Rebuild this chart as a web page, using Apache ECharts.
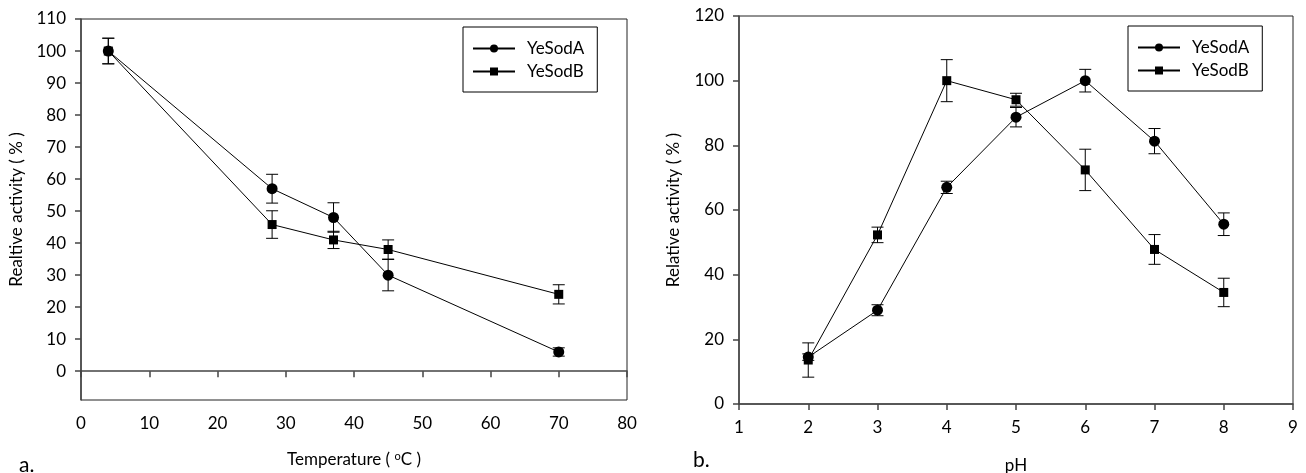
<!DOCTYPE html>
<html><head><meta charset="utf-8">
<script src="https://cdn.jsdelivr.net/npm/echarts@6/dist/echarts.min.js"></script>
<style>html,body{margin:0;padding:0;background:#fff}#c{width:1306px;height:473px}</style>
</head><body><div id="c"></div>
<script>
// ---- Data: panel a (temperature) ----
var tempX = [4, 28, 37, 45, 70];
var tempA = [100, 57, 48, 30, 6];
var tempAErr = [4, 4.5, 4.6, 4.9, 1.3];
var tempB = [100, 45.8, 41, 38, 24];
var tempBErr = [4, 4.3, 2.7, 3, 3];
var tempYTicks = [0, 10, 20, 30, 40, 50, 60, 70, 80, 90, 100, 110];

// ---- Data: panel b (pH) ----
var phX = [2, 3, 4, 5, 6, 7, 8];
var phA = [14.5, 29, 67, 88.7, 100, 81.3, 55.6];
var phAErr = [1, 1.7, 1.9, 3, 3.5, 3.9, 3.5];
var phB = [13.6, 52.3, 100, 94.1, 72.4, 47.8, 34.5];
var phBErr = [5.3, 2.4, 6.5, 2, 6.4, 4.6, 4.4];

var FONT = 'Lato';
var FS = 17;
function pairs(xs, ys) { return xs.map(function (x, i) { return [x, ys[i]]; }); }
function errs(xs, ys, es) { return xs.map(function (x, i) { return [x, ys[i] - es[i], ys[i] + es[i]]; }); }

function errSeries(name, xi, yi, data) {
  return {
    type: 'custom', name: name, xAxisIndex: xi, yAxisIndex: yi, z: 3,
    encode: { x: 0, y: [1, 2] },
    data: data,
    renderItem: function (params, api) {
      var x = api.value(0);
      var lo = api.coord([x, api.value(1)]);
      var hi = api.coord([x, api.value(2)]);
      var w = 6;
      var st = { stroke: '#000', lineWidth: 1 };
      return { type: 'group', children: [
        { type: 'line', shape: { x1: lo[0], y1: lo[1], x2: hi[0], y2: hi[1] }, style: st },
        { type: 'line', shape: { x1: lo[0] - w, y1: lo[1], x2: lo[0] + w, y2: lo[1] }, style: st },
        { type: 'line', shape: { x1: hi[0] - w, y1: hi[1], x2: hi[0] + w, y2: hi[1] }, style: st }
      ]};
    }
  };
}
function lineSeries(name, xi, yi, data, sym, size) {
  return {
    type: 'line', name: name, xAxisIndex: xi, yAxisIndex: yi, z: 4,
    data: data, symbol: sym, symbolSize: size, showSymbol: true,
    lineStyle: { color: '#000', width: 1 }, itemStyle: { color: '#000' },
    emphasis: { disabled: true }, animation: false
  };
}
var axisText = { color: '#000', fontFamily: FONT, fontSize: FS };
var axLine = { show: true, lineStyle: { color: '#444', width: 1.5 } };
var axTick = { show: true, inside: false, length: 6, lineStyle: { color: '#444', width: 1.5 } };
var legendBase = { data: ['YeSodA', 'YeSodB'], orient: 'vertical', itemWidth: 42, itemHeight: 10, itemGap: 6,
  padding: [13, 13, 12, 9], borderColor: '#000', borderWidth: 1, selectedMode: false,
  textStyle: { fontFamily: FONT, fontSize: FS, color: '#000', padding: [0, 0, 0, 7] } };

var option = {
  animation: false,
  backgroundColor: '#fff',
  textStyle: { fontFamily: FONT },
  title: [
    { text: 'a.', left: 14, top: 450, textStyle: { fontFamily: FONT, fontSize: 21, fontWeight: 'normal', color: '#000' } },
    { text: 'b.', left: 688, top: 445, textStyle: { fontFamily: FONT, fontSize: 21, fontWeight: 'normal', color: '#000' } }
  ],
  grid: [
    { left: 81, top: 19, right: 679, bottom: 73, show: true, borderColor: '#222', borderWidth: 1, containLabel: false, outerBoundsMode: 'none' },
    { left: 739, top: 16, right: 13, bottom: 69, show: true, borderColor: '#222', borderWidth: 1, containLabel: false, outerBoundsMode: 'none' }
  ],
  legend: [
    Object.assign({ left: 463, top: 27 }, legendBase),
    Object.assign({ left: 1128, top: 26 }, legendBase)
  ],
  xAxis: [
    { type: 'value', gridIndex: 0, min: 0, max: 80, interval: 10, splitLine: { show: false },
      axisLine: axLine, axisTick: axTick, axisLabel: Object.assign({ margin: 15 }, axisText),
      name: 'Temperature ( {s|o}C )', nameLocation: 'middle', nameGap: 51,
      nameTextStyle: { color: '#000', fontFamily: FONT, fontSize: FS, rich: { s: { fontSize: 11, verticalAlign: 'top', padding: [0, 0, 7, 0], fontFamily: FONT, color: '#000' } } } },
    { type: 'value', gridIndex: 1, min: 1, max: 9, interval: 1, splitLine: { show: false },
      axisLine: axLine, axisTick: axTick, axisLabel: Object.assign({ margin: 15 }, axisText),
      name: 'pH', nameLocation: 'middle', nameGap: 53,
      nameTextStyle: { color: '#000', fontFamily: FONT, fontSize: FS } }
  ],
  yAxis: [
    { type: 'value', gridIndex: 0, min: -9, max: 110, splitLine: { show: false },
      axisLine: axLine,
      axisTick: Object.assign({ customValues: tempYTicks }, axTick),
      axisLabel: Object.assign({ customValues: tempYTicks, margin: 15 }, axisText),
      name: 'Realtive activity ( % )', nameLocation: 'middle', nameGap: 56,
      nameTextStyle: { color: '#000', fontFamily: FONT, fontSize: FS } },
    { type: 'value', gridIndex: 1, min: 0, max: 120, interval: 20, splitLine: { show: false },
      axisLine: axLine, axisTick: axTick, axisLabel: Object.assign({ margin: 15 }, axisText),
      name: 'Relative activity ( % )', nameLocation: 'middle', nameGap: 57,
      nameTextStyle: { color: '#000', fontFamily: FONT, fontSize: FS } }
  ],
  series: [
    errSeries('errTA', 0, 0, errs(tempX, tempA, tempAErr)),
    errSeries('errTB', 0, 0, errs(tempX, tempB, tempBErr)),
    lineSeries('YeSodA', 0, 0, pairs(tempX, tempA), 'circle', 11),
    lineSeries('YeSodB', 0, 0, pairs(tempX, tempB), 'rect', 9),
    errSeries('errPA', 1, 1, errs(phX, phA, phAErr)),
    errSeries('errPB', 1, 1, errs(phX, phB, phBErr)),
    lineSeries('YeSodA', 1, 1, pairs(phX, phA), 'circle', 11),
    lineSeries('YeSodB', 1, 1, pairs(phX, phB), 'rect', 9)
  ]
};
var chart = echarts.init(document.getElementById('c'), null, { renderer: 'canvas' });
chart.setOption(option);
</script></body></html>
